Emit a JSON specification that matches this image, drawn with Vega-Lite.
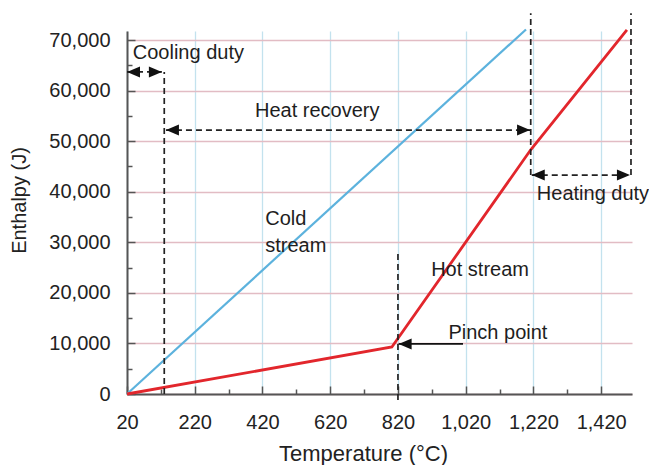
{
  "$schema": "https://vega.github.io/schema/vega-lite/v6.json",
  "width": 505,
  "height": 363,
  "autosize": {"type": "none"},
  "padding": {"left": 127, "top": 31, "right": 17, "bottom": 71},
  "background": "white",
  "config": {"view": {"stroke": null}, "font": "Liberation Sans"},
  "datasets": {
    "streams": [
      {"s": "cold", "x": 20, "y": 0},
      {"s": "cold", "x": 1198, "y": 72100},
      {"s": "hot", "x": 20, "y": 0},
      {"s": "hot", "x": 802, "y": 9300},
      {"s": "hot", "x": 1212, "y": 48300},
      {"s": "hot", "x": 1496, "y": 72000}
    ],
    "dashes": [
      {"x": 130, "y": 0, "x2": 130, "y2": 63700},
      {"x": 20, "y": 63700, "x2": 123, "y2": 63700},
      {"x": 135, "y": 52200, "x2": 1210, "y2": 52200},
      {"x": 1212, "y": 43300, "x2": 1212, "y2": 75300},
      {"x": 1508, "y": 43300, "x2": 1508, "y2": 75300},
      {"x": 1215, "y": 43300, "x2": 1505, "y2": 43300},
      {"x": 820, "y": -1200, "x2": 820, "y2": 28100}
    ],
    "solid": [
      {"x": 822, "y": 9900, "x2": 1012, "y2": 9900}
    ],
    "heads": [
      {"x": 20, "y": 63700, "dir": "left"},
      {"x": 123, "y": 63700, "dir": "right"},
      {"x": 135, "y": 52200, "dir": "left"},
      {"x": 1210, "y": 52200, "dir": "right"},
      {"x": 1215, "y": 43300, "dir": "left"},
      {"x": 1505, "y": 43300, "dir": "right"},
      {"x": 822, "y": 9900, "dir": "left"}
    ],
    "labels": [
      {"x": 37, "y": 66340, "label": "Cooling duty"},
      {"x": 398, "y": 54830, "label": "Heat recovery"},
      {"x": 428, "y": 33420, "label": "Cold"},
      {"x": 428, "y": 28140, "label": "stream"},
      {"x": 918, "y": 23330, "label": "Hot stream"},
      {"x": 969, "y": 10820, "label": "Pinch point"},
      {"x": 1230, "y": 38360, "label": "Heating duty"}
    ]
  },
  "encoding": {
    "x": {
      "field": "x",
      "type": "quantitative",
      "scale": {"domain": [20, 1511], "nice": false, "zero": false},
      "axis": {
        "title": "Temperature (°C)",
        "values": [20, 120, 220, 320, 420, 520, 620, 720, 820, 920, 1020, 1120, 1220, 1320, 1420],
        "labelExpr": "(datum.value - 20) % 200 == 0 ? format(datum.value, ',') : ''",
        "labelFont": "Liberation Sans",
        "labelFontSize": 20,
        "labelColor": "#222222",
        "labelPadding": 26,
        "labelFlush": false,
        "labelOverlap": false,
        "tickSize": {"condition": {"test": "(datum.value - 20) % 200 == 0", "value": -8}, "value": -5},
        "tickColor": "#555555",
        "tickWidth": 1.5,
        "domainColor": "#555555",
        "domainWidth": 2,
        "grid": true,
        "gridColor": "#c3e2ee",
        "gridWidth": 1.3,
        "gridOpacity": {"condition": {"test": "(datum.value - 20) % 200 == 0", "value": 1}, "value": 0},
        "titleFont": "Liberation Sans",
        "titleFontSize": 22,
        "titleFontWeight": "normal",
        "titleColor": "#222222",
        "titleX": 236,
        "titleY": 66,
        "titleBaseline": "alphabetic",
        "titleAlign": "center"
      }
    },
    "y": {
      "field": "y",
      "type": "quantitative",
      "scale": {"domain": [0, 71800], "nice": false},
      "axis": {
        "title": "Enthalpy (J)",
        "values": [0, 5000, 10000, 15000, 20000, 25000, 30000, 35000, 40000, 45000, 50000, 55000, 60000, 65000, 70000],
        "labelExpr": "datum.value % 10000 == 0 ? format(datum.value, ',') : ''",
        "labelFont": "Liberation Sans",
        "labelFontSize": 20,
        "labelColor": "#222222",
        "labelPadding": 25,
        "labelFlush": false,
        "labelOverlap": false,
        "tickSize": {"condition": {"test": "datum.value % 10000 == 0", "value": -8}, "value": -5},
        "tickColor": "#555555",
        "tickWidth": 1.5,
        "domainColor": "#555555",
        "domainWidth": 2,
        "grid": true,
        "gridColor": "#e2bcc4",
        "gridWidth": 1.3,
        "gridOpacity": {"condition": {"test": "datum.value % 10000 == 0", "value": 1}, "value": 0},
        "titleFont": "Liberation Sans",
        "titleFontSize": 20,
        "titleFontWeight": "normal",
        "titleColor": "#222222",
        "titleX": -102,
        "titleY": 169,
        "titleAngle": -90,
        "titleBaseline": "alphabetic",
        "titleAlign": "center"
      }
    }
  },
  "layer": [
    {
      "data": {"name": "streams"},
      "mark": {"type": "line", "clip": false},
      "encoding": {
        "color": {"field": "s", "type": "nominal", "scale": {"domain": ["cold", "hot"], "range": ["#5cb2dd", "#e2262c"]}, "legend": null},
        "strokeWidth": {"field": "s", "type": "nominal", "scale": {"domain": ["cold", "hot"], "range": [2.2, 2.8]}, "legend": null}
      }
    },
    {
      "data": {"name": "dashes"},
      "mark": {"type": "rule", "strokeDash": [6, 4], "strokeWidth": 1.7, "color": "#222222", "clip": false},
      "encoding": {
        "x2": {"field": "x2"},
        "y2": {"field": "y2"}
      }
    },
    {
      "data": {"name": "solid"},
      "mark": {"type": "rule", "strokeWidth": 1.7, "color": "#111111", "clip": false},
      "encoding": {
        "x2": {"field": "x2"},
        "y2": {"field": "y2"}
      }
    },
    {
      "data": {"name": "heads"},
      "mark": {"type": "point", "filled": true, "opacity": 1, "size": 169, "color": "#111111", "strokeWidth": 0, "clip": false},
      "encoding": {
        "shape": {"field": "dir", "type": "nominal", "scale": {"domain": ["left", "right"], "range": ["M0,0L2,-0.85L2,0.85Z", "M0,0L-2,-0.85L-2,0.85Z"]}, "legend": null}
      }
    },
    {
      "data": {"name": "labels"},
      "mark": {"type": "text", "align": "left", "baseline": "alphabetic", "font": "Liberation Sans", "fontSize": 20, "color": "#1e1e1e", "clip": false},
      "encoding": {
        "text": {"field": "label", "type": "nominal"}
      }
    }
  ]
}
